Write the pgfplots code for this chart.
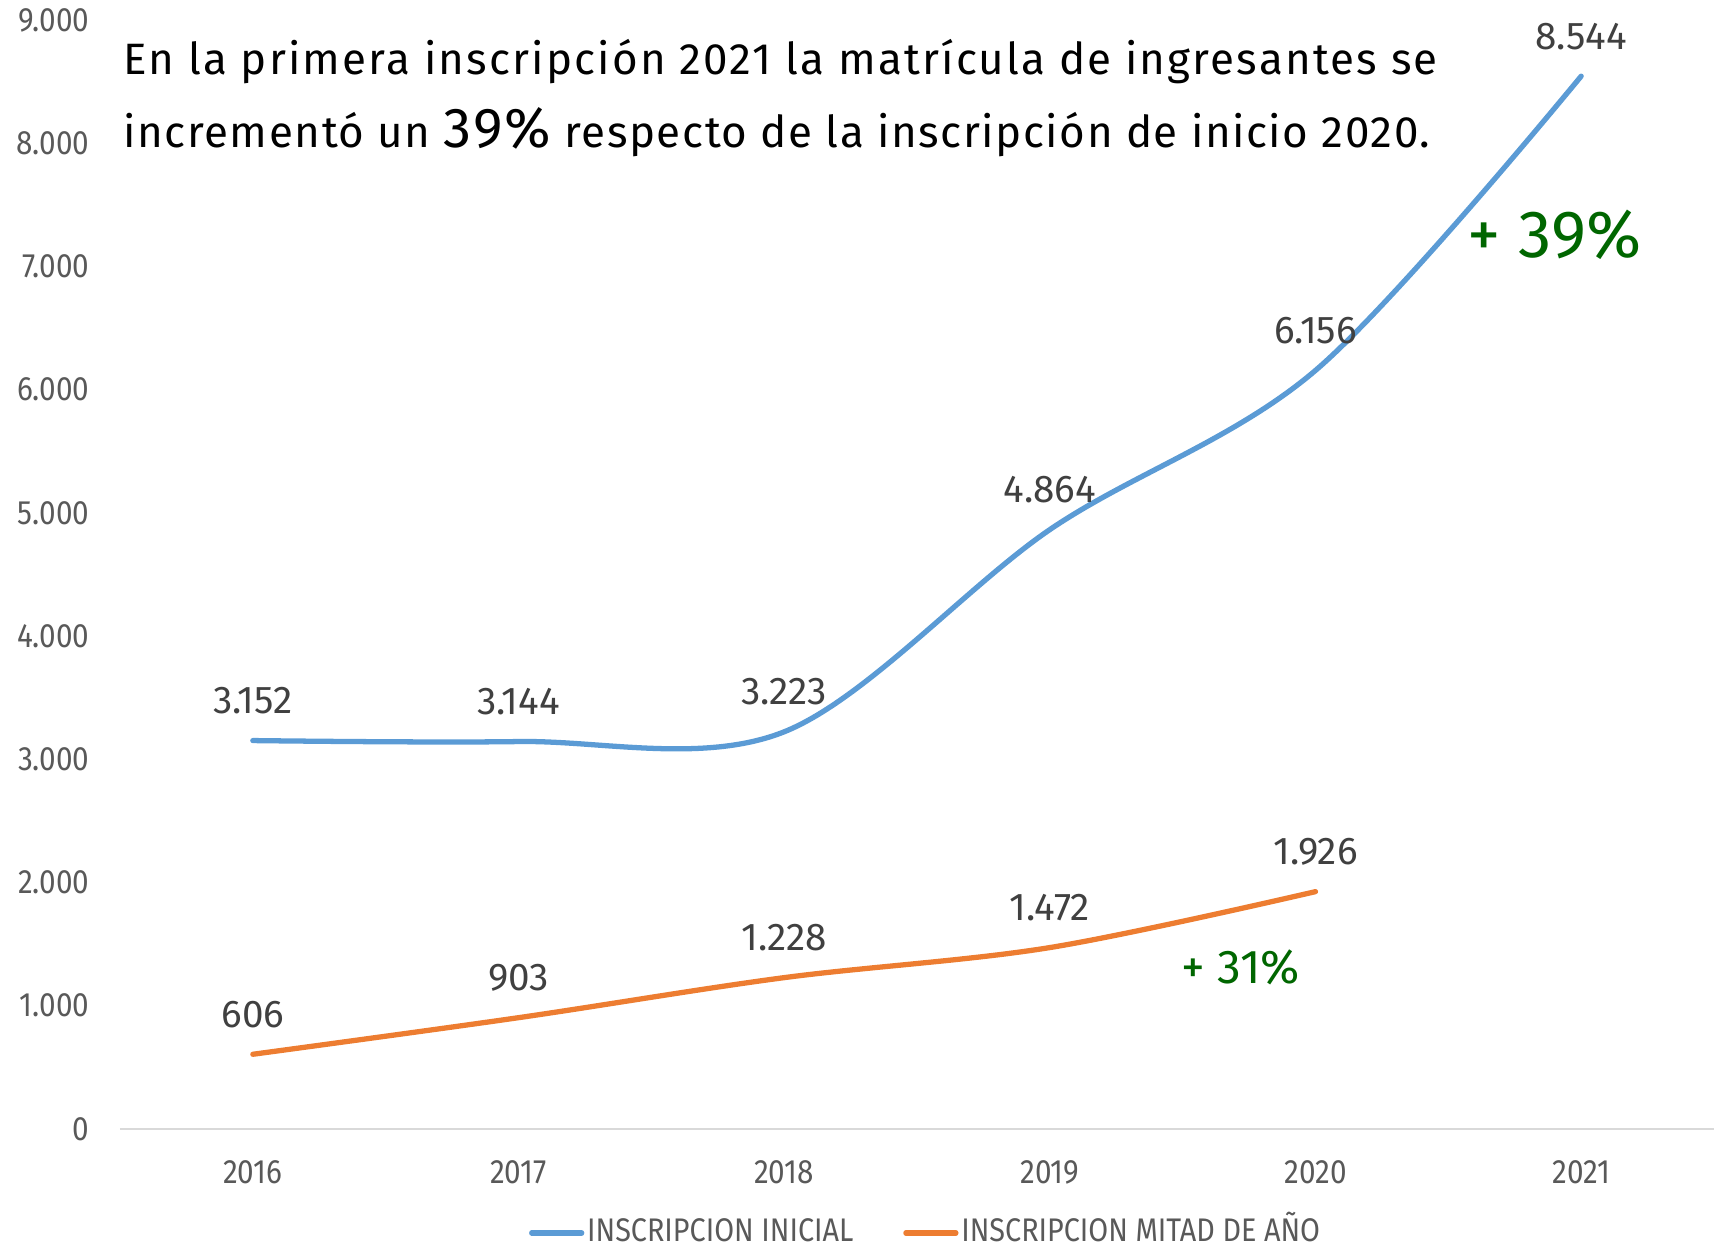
\documentclass[border=0pt]{standalone}
\usepackage{fontspec}
\setmainfont{Fira Sans}
\newfontfamily\cond{Fira Sans}[FakeStretch=0.88]
\newfontfamily\titlef{Fira Sans}[LetterSpace=5.0]
\newfontfamily\titleg{Fira Sans}[LetterSpace=3.6]
\usepackage{pgfplots}
\pgfplotsset{compat=1.18}
\definecolor{cblue}{HTML}{5B9BD5}
\definecolor{corange}{HTML}{ED7D31}
\definecolor{tickgray}{HTML}{595959}
\definecolor{labgray}{HTML}{404040}
\definecolor{cgreen}{HTML}{006600}
\begin{document}
\begin{tikzpicture}
\begin{axis}[
  scale only axis,
  width=15.94cm, height=11.09cm,
  xmin=-0.5, xmax=5.5,
  ymin=0, ymax=9000,
  xtick={0,1,2,3,4,5},
  xticklabels={2016,2017,2018,2019,2020,2021},
  ytick={0,1000,...,9000},
  axis x line*=bottom, axis y line*=left,
  x axis line style={draw=black!15, line width=0.8pt, -},
  y axis line style={draw=none},
  tick style={draw=none},
  /pgf/number format/.cd, 1000 sep={.}, assume math mode=true,
  /pgfplots/.cd,
  tick label style={font=\cond\fontsize{9.6}{10}\selectfont, text=tickgray, inner sep=0pt},
  yticklabel style={anchor=east, xshift=-3mm},
  xticklabel style={anchor=north, yshift=-3.1mm},
  clip=false,
  nodes near coords,
  every node near coord/.append style={font=\fontsize{11}{12}\selectfont, text=labgray, anchor=center, yshift=4mm, inner sep=0pt},
  legend columns=2,
  legend style={at={(0.5,0)}, anchor=center, yshift=-10.4mm, xshift=0.9mm, draw=none, fill=none,
    font=\cond\fontsize{9.3}{10}\selectfont, text=tickgray, inner sep=0pt,
    nodes={inner xsep=0.8pt, inner ysep=0pt},
    /tikz/every even column/.append style={column sep=4.7mm}},
  legend image code/.code={\draw[#1, line cap=round] (0,0) -- (0.5cm,0);},
]
\addplot[cblue, line width=1.5pt, smooth, tension=0.55, line cap=round] coordinates {
(0,3152) (1,3144) (2,3223) (3,4864) (4,6156) (5,8544)};
\addlegendentry{INSCRIPCION INICIAL}
\addplot[corange, line width=1.5pt, smooth, tension=0.55, line cap=round] coordinates {
(0,606) (1,903) (2,1228) (3,1472) (4,1926)};
\addlegendentry{INSCRIPCION MITAD DE A\smash{Ñ}O}
\node[anchor=base west, inner sep=0pt, font=\titlef\fontsize{12.5}{14}\selectfont] at (axis cs:-0.49,8555) {En la primera inscripción 2021 la matrícula de ingresantes se};
\node[anchor=base west, inner sep=0pt, font=\titleg\fontsize{12.5}{14}\selectfont] at (axis cs:-0.49,7963) {incrementó un {\fontsize{16}{18}\selectfont 39\%} respecto de la inscripción de inicio 2020.};
\node[font=\fontsize{19}{20}\selectfont, text=cgreen, inner sep=0pt] at (axis cs:4.90,7257) {+ 39\%};
\node[font=\fontsize{13.5}{15}\selectfont, text=cgreen, inner sep=0pt] at (axis cs:3.718,1315) {+ 31\%};
\end{axis}
\pgfresetboundingbox
\useasboundingbox ([shift={(-12mm,-11.9mm)}]current axis.south west) rectangle ([shift={(0,2mm)}]current axis.north east);
\end{tikzpicture}
\end{document}
